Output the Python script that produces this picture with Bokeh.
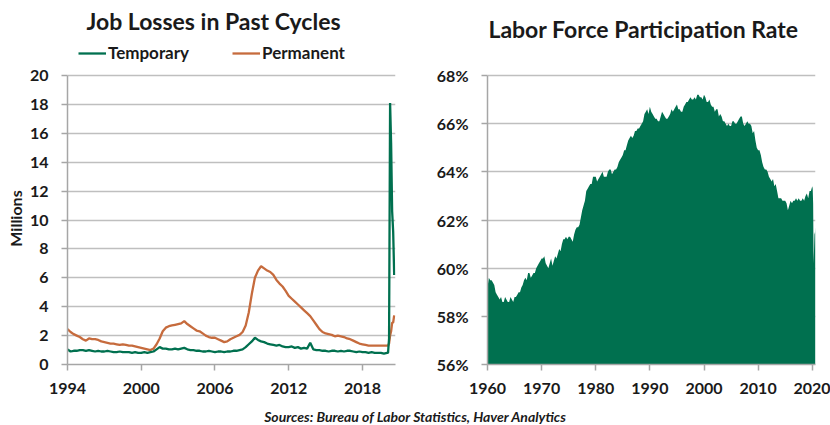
import numpy as np
from bokeh.plotting import figure
from bokeh.models import Label, Legend, LegendItem, FixedTicker, PrintfTickFormatter, Range1d, Div
from bokeh.layouts import row, column
from bokeh.embed import file_html
from bokeh.resources import INLINE

GREEN = "#00704F"
ORANGE = "#C66B3D"
FONT = "Lato"
TXT = "#1A1A1A"
AXIS = "#A6A6A6"
GRID = "#BFBFBF"

# ---------------- Data: job losers (millions), quarterly 1994Q1-2019Q4 ----------------
temporary_q = [
    1.05, 0.90, 0.95, 0.95,  # 1994
    1.00, 1.00, 0.95, 1.00,  # 1995
    0.95, 0.90, 0.95, 0.90,  # 1996
    0.90, 0.95, 0.90, 0.85,  # 1997
    0.85, 0.90, 0.85, 0.85,  # 1998
    0.85, 0.80, 0.85, 0.80,  # 1999
    0.80, 0.85, 0.80, 0.85,  # 2000
    0.90, 1.05, 1.20, 1.10,  # 2001
    1.10, 1.05, 1.05, 1.10,  # 2002
    1.05, 1.10, 1.15, 1.05,  # 2003
    1.00, 1.00, 0.95, 0.95,  # 2004
    0.90, 0.90, 0.95, 0.90,  # 2005
    0.85, 0.90, 0.90, 0.85,  # 2006
    0.90, 0.90, 0.95, 0.95,  # 2007
    1.00, 1.05, 1.20, 1.40,  # 2008
    1.60, 1.85, 1.70, 1.60,  # 2009
    1.55, 1.45, 1.40, 1.35,  # 2010
    1.30, 1.35, 1.25, 1.20,  # 2011
    1.20, 1.25, 1.15, 1.20,  # 2012
    1.10, 1.15, 1.10, 1.50,  # 2013
    1.05, 1.00, 1.00, 0.95,  # 2014
    0.95, 0.90, 0.95, 0.95,  # 2015
    0.90, 0.95, 0.90, 0.95,  # 2016
    0.95, 0.90, 0.85, 0.90,  # 2017
    0.85, 0.85, 0.80, 0.85,  # 2018
    0.80, 0.80, 0.80, 0.75,  # 2019
]
permanent_q = [
    2.45, 2.25, 2.10, 2.00,  # 1994
    1.90, 1.75, 1.65, 1.80,  # 1995
    1.75, 1.75, 1.70, 1.60,  # 1996
    1.55, 1.50, 1.45, 1.45,  # 1997
    1.40, 1.35, 1.40, 1.35,  # 1998
    1.30, 1.30, 1.25, 1.20,  # 1999
    1.15, 1.10, 1.05, 1.00,  # 2000
    1.10, 1.40, 1.80, 2.30,  # 2001
    2.55, 2.65, 2.70, 2.75,  # 2002
    2.80, 2.85, 3.00, 2.80,  # 2003
    2.65, 2.50, 2.35, 2.30,  # 2004
    2.15, 2.00, 1.90, 1.85,  # 2005
    1.85, 1.75, 1.65, 1.55,  # 2006
    1.60, 1.75, 1.85, 1.95,  # 2007
    2.05, 2.25, 2.70, 3.60,  # 2008
    4.90, 6.00, 6.50, 6.80,  # 2009
    6.65, 6.50, 6.40, 6.20,  # 2010
    5.85, 5.60, 5.40, 5.10,  # 2011
    4.75, 4.55, 4.35, 4.15,  # 2012
    3.95, 3.75, 3.55, 3.35,  # 2013
    3.05, 2.75, 2.45, 2.25,  # 2014
    2.15, 2.10, 2.05, 1.95,  # 2015
    2.00, 1.95, 1.90, 1.80,  # 2016
    1.75, 1.65, 1.55, 1.45,  # 2017
    1.40, 1.35, 1.30, 1.30,  # 2018
    1.30, 1.30, 1.30, 1.30,  # 2019
]
# monthly Jan-Aug 2020
temporary_2020 = [0.80, 0.80, 1.80, 18.10, 15.30, 10.60, 9.20, 6.20]
permanent_2020 = [1.30, 1.30, 1.45, 2.00, 2.30, 2.90, 2.90, 3.40]

# ---------------- Data: labor force participation rate (%), quarterly 1960Q1-2019Q4 ----------------
lfpr_q = [
    59.2, 59.6, 59.5, 59.5,  # 1960
    59.4, 59.3, 59.0, 58.9,  # 1961
    58.8, 58.7, 58.8, 58.6,  # 1962
    58.6, 58.8, 58.7, 58.6,  # 1963
    58.6, 58.8, 58.7, 58.6,  # 1964
    58.8, 58.8, 58.9, 59.0,  # 1965
    59.0, 59.2, 59.3, 59.5,  # 1966
    59.6, 59.5, 59.8, 59.8,  # 1967
    59.6, 59.7, 59.8, 59.8,  # 1968
    60.0, 60.1, 60.2, 60.3,  # 1969
    60.4, 60.4, 60.5, 60.2,  # 1970
    60.1, 60.0, 60.2, 60.4,  # 1971
    60.1, 60.3, 60.5, 60.4,  # 1972
    60.6, 60.8, 60.7, 61.0,  # 1973
    61.2, 61.2, 61.3, 61.2,  # 1974
    61.3, 61.3, 61.2, 61.1,  # 1975
    61.4, 61.6, 61.7, 61.7,  # 1976
    61.8, 62.1, 62.4, 62.6,  # 1977
    62.8, 63.2, 63.3, 63.4,  # 1978
    63.5, 63.5, 63.8, 63.8,  # 1979
    63.8, 63.6, 63.7, 63.8,  # 1980
    63.9, 64.0, 63.8, 63.8,  # 1981
    63.8, 64.0, 64.1, 64.1,  # 1982
    63.9, 64.0, 64.1, 64.1,  # 1983
    64.2, 64.4, 64.5, 64.6,  # 1984
    64.7, 64.9, 64.9, 65.1,  # 1985
    65.3, 65.4, 65.5, 65.4,  # 1986
    65.5, 65.7, 65.7, 65.8,  # 1987
    65.8, 65.9, 66.0, 66.1,  # 1988
    66.4, 66.5, 66.6, 66.4,  # 1989
    66.7, 66.5, 66.4, 66.3,  # 1990
    66.2, 66.2, 66.1, 66.1,  # 1991
    66.3, 66.5, 66.4, 66.3,  # 1992
    66.2, 66.2, 66.3, 66.4,  # 1993
    66.6, 66.5, 66.6, 66.7,  # 1994
    66.8, 66.6, 66.6, 66.5,  # 1995
    66.5, 66.7, 66.8, 66.9,  # 1996
    66.9, 67.0, 67.1, 67.0,  # 1997
    67.0, 67.1, 67.0, 67.2,  # 1998
    67.2, 67.1, 67.1, 67.0,  # 1999
    67.2, 67.1, 66.9, 66.9,  # 2000
    67.0, 66.8, 66.7, 66.7,  # 2001
    66.5, 66.6, 66.6, 66.3,  # 2002
    66.4, 66.3, 66.1, 66.1,  # 2003
    66.0, 65.9, 66.0, 65.9,  # 2004
    65.9, 66.1, 66.1, 66.0,  # 2005
    66.0, 66.1, 66.2, 66.3,  # 2006
    66.3, 66.0, 65.9, 66.0,  # 2007
    66.1, 66.0, 66.0, 65.9,  # 2008
    65.6, 65.7, 65.3, 65.0,  # 2009
    64.9, 64.9, 64.7, 64.4,  # 2010
    64.2, 64.1, 64.1, 64.0,  # 2011
    63.8, 63.7, 63.6, 63.7,  # 2012
    63.4, 63.5, 63.2, 62.9,  # 2013
    62.9, 62.9, 62.8, 62.8,  # 2014
    62.8, 62.7, 62.4, 62.6,  # 2015
    62.8, 62.7, 62.8, 62.8,  # 2016
    62.9, 62.8, 62.9, 62.8,  # 2017
    62.8, 62.9, 62.8, 63.0,  # 2018
    63.1, 62.9, 63.2, 63.2,  # 2019
]
lfpr_2020 = [63.4, 63.3, 62.7, 60.2, 60.8, 61.5, 61.4, 61.7]

job_ticks = [1994, 2000, 2006, 2012, 2018]
job_yticks = [0, 2, 4, 6, 8, 10, 12, 14, 16, 18, 20]
lfpr_ticks = [1960, 1970, 1980, 1990, 2000, 2010, 2020]
lfpr_yticks = [56, 58, 60, 62, 64, 66, 68]

# time axes (fractional years)
job_x = list(1994 + np.arange(len(temporary_q)) * 0.25) + list(2020 + np.arange(len(temporary_2020)) / 12)
temporary = temporary_q + temporary_2020
permanent = permanent_q + permanent_2020
lfpr_x = list(1960 + np.arange(len(lfpr_q)) * 0.25) + list(2020 + np.arange(len(lfpr_2020)) / 12)
lfpr = lfpr_q + lfpr_2020

FIG_H = 408
FRAME_BOTTOM = 364   # px from top of canvas
PLOT_TOP = 75        # where the top gridline sits


def style_axes(p):
    for ax in (p.xaxis[0], p.yaxis[0]):
        ax.axis_line_color = AXIS
        ax.axis_line_width = 1.5
        ax.major_tick_line_color = AXIS
        ax.major_tick_line_width = 1.5
        ax.major_tick_in = 0
        ax.major_tick_out = 6
        ax.minor_tick_line_color = None
        ax.major_label_text_font = FONT
        ax.major_label_text_font_style = "bold"
        ax.major_label_text_font_size = "16px"
        ax.major_label_text_color = TXT
    p.yaxis.major_label_standoff = 13
    p.xaxis.major_label_standoff = 12
    p.xgrid.grid_line_color = None
    p.ygrid.grid_line_color = GRID
    p.ygrid.grid_line_width = 1.5
    p.outline_line_color = None
    p.background_fill_color = None
    p.border_fill_color = None


def top_of(lo, hi):
    # extend the range upward so `hi` sits at PLOT_TOP while the frame reaches the canvas top
    return lo + (hi - lo) * FRAME_BOTTOM / (FRAME_BOTTOM - PLOT_TOP)


# ---------------- Left chart ----------------
p1 = figure(width=416, height=FIG_H, output_backend="svg", toolbar_location=None,
            x_range=Range1d(1994, 2020.69), y_range=Range1d(0, top_of(0, 20)),
            min_border_left=67, min_border_right=21, min_border_top=0,
            min_border_bottom=FIG_H - FRAME_BOTTOM)
style_axes(p1)
p1.xaxis.ticker = FixedTicker(ticks=job_ticks)
p1.yaxis.ticker = FixedTicker(ticks=job_yticks)
p1.yaxis.bounds = (0, 20)
# trailing em spaces push the (frame-centred) label down to the middle of the 0-20 scale
p1.yaxis.axis_label = "Millions" + "\u2003" * 6
p1.yaxis.axis_label_text_font = FONT
p1.yaxis.axis_label_text_font_style = "bold"
p1.yaxis.axis_label_text_font_size = "16px"
p1.yaxis.axis_label_text_color = TXT
p1.yaxis.axis_label_standoff = 2

r_perm = p1.line(job_x, permanent, line_color=ORANGE, line_width=2.3)
r_temp = p1.line(job_x, temporary, line_color=GREEN, line_width=2.3)

legend = Legend(items=[LegendItem(label="Temporary", renderers=[r_temp]),
                       LegendItem(label="Permanent", renderers=[r_perm])],
                orientation="horizontal", location=(11, 301),
                glyph_width=28, glyph_height=16, label_height=16, label_standoff=2,
                spacing=43, padding=0, margin=0,
                border_line_color=None, background_fill_alpha=0,
                label_text_font=FONT, label_text_font_style="bold",
                label_text_font_size="17px", label_text_color=TXT)
p1.add_layout(legend, "center")

p1.add_layout(Label(x=146, y=344, x_units="screen", y_units="screen",
                    text="Job Losses in Past Cycles", text_align="center", text_baseline="middle",
                    text_font=FONT, text_font_style="bold", text_font_size="23px", text_color=TXT))

# ---------------- Right chart ----------------
p2 = figure(width=414, height=FIG_H, output_backend="svg", toolbar_location=None,
            x_range=Range1d(1960, 2020.6), y_range=Range1d(56, top_of(56, 68)),
            min_border_left=71, min_border_right=15, min_border_top=0,
            min_border_bottom=FIG_H - FRAME_BOTTOM)
style_axes(p2)
p2.xaxis.ticker = FixedTicker(ticks=lfpr_ticks)
p2.yaxis.ticker = FixedTicker(ticks=lfpr_yticks)
p2.yaxis.formatter = PrintfTickFormatter(format="%d%%")
p2.yaxis.bounds = (56, 68)

p2.varea(x=lfpr_x, y1=56, y2=lfpr, fill_color=GREEN)

p2.add_layout(Label(x=156, y=336, x_units="screen", y_units="screen",
                    text="Labor Force Participation Rate", text_align="center", text_baseline="middle",
                    text_font=FONT, text_font_style="bold", text_font_size="23px", text_color=TXT))

source = Div(text=('<div style="width:824px;padding-left:6px;text-align:center;'
                   'font-family:Lato;font-weight:bold;font-style:italic;font-size:14px;'
                   'line-height:17px;color:#1A1A1A;">'
                   'Sources: Bureau of Labor Statistics, Haver Analytics</div>'),
             width=830, height=17, margin=0)

layout = column(row(p1, p2), source)
open("out.html", "w").write(file_html(layout, INLINE))
